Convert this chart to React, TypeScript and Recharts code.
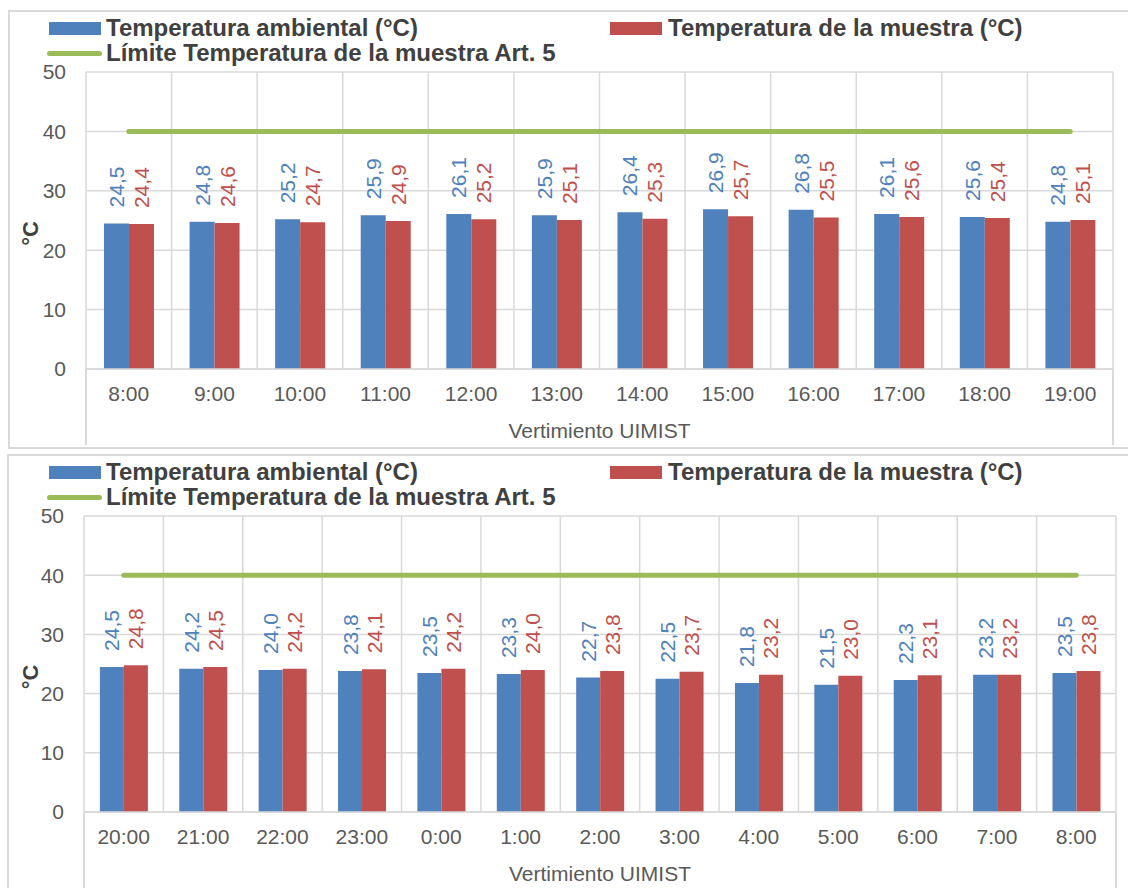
import { ComposedChart, Bar, Line, XAxis, YAxis, CartesianGrid, LabelList } from 'recharts';

// Datos
const horasDia = ['8:00', '9:00', '10:00', '11:00', '12:00', '13:00', '14:00', '15:00', '16:00', '17:00', '18:00', '19:00'];
const ambientalDia = [24.5, 24.8, 25.2, 25.9, 26.1, 25.9, 26.4, 26.9, 26.8, 26.1, 25.6, 24.8];
const muestraDia = [24.4, 24.6, 24.7, 24.9, 25.2, 25.1, 25.3, 25.7, 25.5, 25.6, 25.4, 25.1];

const horasNoche = ['20:00', '21:00', '22:00', '23:00', '0:00', '1:00', '2:00', '3:00', '4:00', '5:00', '6:00', '7:00', '8:00'];
const ambientalNoche = [24.5, 24.2, 24.0, 23.8, 23.5, 23.3, 22.7, 22.5, 21.8, 21.5, 22.3, 23.2, 23.5];
const muestraNoche = [24.8, 24.5, 24.2, 24.1, 24.2, 24.0, 23.8, 23.7, 23.2, 23.0, 23.1, 23.2, 23.8];

const limiteArt5 = 40;
const yTicks = [0, 10, 20, 30, 40, 50];

const AZUL = '#4F81BD';
const ROJO = '#C0504D';
const VERDE = '#9BBB59';
const GRIS = '#d9d9d9';
const FONT = '"Liberation Sans", Arial, sans-serif';

const fmt = (v: number) => v.toFixed(1).replace('.', ',');

const rotLabel = (color: string) => (props: any) => {
  const { x, y, width, value } = props;
  const cx = Number(x) + Number(width) / 2;
  const ty = Number(y) - 16;
  return (
    <text
      x={cx}
      y={ty}
      transform={`rotate(-90, ${cx}, ${ty})`}
      textAnchor="start"
      dominantBaseline="central"
      fill={color}
      fontSize={21}
      fontFamily={FONT}
    >
      {fmt(Number(value))}
    </text>
  );
};

function Legend({ top }: { top: number }) {
  const txt = { position: 'absolute' as const, fontWeight: 'bold' as const, fontSize: 24, color: '#404040', lineHeight: '26px', whiteSpace: 'nowrap' as const };
  return (
    <>
      <div style={{ position: 'absolute', left: 49, top: top - 6, width: 52, height: 13, background: AZUL }} />
      <div style={{ ...txt, left: 106, top: top - 13 }}>Temperatura ambiental (°C)</div>
      <div style={{ position: 'absolute', left: 610, top: top - 6, width: 52, height: 13, background: ROJO }} />
      <div style={{ ...txt, left: 668, top: top - 13 }}>Temperatura de la muestra (°C)</div>
      <div style={{ position: 'absolute', left: 47, top: top + 23, width: 55, height: 5, borderRadius: 3, background: VERDE }} />
      <div style={{ ...txt, left: 106, top: top + 12 }}>Límite Temperatura de la muestra Art. 5</div>
    </>
  );
}

interface PanelProps {
  top: number;
  height: number;
  horas: string[];
  ambiental: number[];
  muestra: number[];
  margin: { top: number; right: number; bottom: number; left: number };
  yWidth: number;
  gap: string;
  legendTop: number;
  box: { left: number; top: number; height: number };
  plotLeft: number;
  plotRight: number;
  plotBottom: number;
  extBottom: number;
}

function Panel(p: PanelProps) {
  const data = p.horas.map((h, i) => ({
    hora: h,
    ambiental: p.ambiental[i],
    muestra: p.muestra[i],
    limite: limiteArt5,
  }));
  const n = data.length;
  const plotTop = p.margin.top;
  const plotBottomRel = p.plotBottom - p.top;
  const yLabelY = (plotTop + plotBottomRel) / 2 + 13;

  return (
    <>
      <div style={{ position: 'absolute', left: p.box.left, top: p.box.top, width: 1300, height: p.box.height, border: `2px solid ${GRIS}`, boxSizing: 'border-box' }} />
      <div style={{ position: 'absolute', left: p.plotLeft - 1, top: p.plotBottom, width: 2, height: p.extBottom - p.plotBottom, background: GRIS }} />
      <div style={{ position: 'absolute', left: p.plotRight - 1, top: p.plotBottom, width: 2, height: p.extBottom - p.plotBottom, background: GRIS }} />
      <Legend top={p.legendTop} />
      <div style={{ position: 'absolute', left: 0, top: p.top }}>
        <ComposedChart width={1128} height={p.height} data={data} margin={p.margin} barCategoryGap={p.gap} barGap={0}>
          <CartesianGrid
            stroke={GRIS}
            strokeWidth={1.5}
            verticalCoordinatesGenerator={({ offset }: any) =>
              Array.from({ length: n + 1 }, (_, i) => offset.left + (i * offset.width) / n)
            }
          />
          <XAxis
            dataKey="hora"
            axisLine={{ stroke: GRIS, strokeWidth: 1.5 }}
            tickLine={false}
            tickSize={0}
            tickMargin={17}
            height={72}
            interval={0}
            tick={{ fill: '#595959', fontSize: 21, fontFamily: FONT }}
            label={{ value: 'Vertimiento UIMIST', position: 'insideBottom', offset: 3, fill: '#595959', fontSize: 21, fontFamily: FONT }}
          />
          <YAxis
            domain={[0, 50]}
            ticks={yTicks}
            width={p.yWidth}
            axisLine={false}
            tickLine={false}
            tickSize={0}
            tickMargin={20}
            tick={{ fill: '#595959', fontSize: 21, fontFamily: FONT }}
            label={{
              content: () => (
                <text
                  x={30}
                  y={yLabelY}
                  transform={`rotate(-90, 30, ${yLabelY})`}
                  textAnchor="middle"
                  dominantBaseline="central"
                  fill="#404040"
                  fontWeight="bold"
                  fontSize={22}
                  fontFamily={FONT}
                >
                  °C
                </text>
              ),
            }}
          />
          <Bar dataKey="ambiental" fill={AZUL} isAnimationActive={false}>
            <LabelList dataKey="ambiental" content={rotLabel(AZUL)} />
          </Bar>
          <Bar dataKey="muestra" fill={ROJO} isAnimationActive={false}>
            <LabelList dataKey="muestra" content={rotLabel(ROJO)} />
          </Bar>
          <Line
            dataKey="limite"
            type="linear"
            stroke={VERDE}
            strokeWidth={5}
            strokeLinecap="round"
            dot={false}
            activeDot={false}
            isAnimationActive={false}
          />
        </ComposedChart>
      </div>
    </>
  );
}

export default function App() {
  return (
    <div style={{ position: 'absolute', left: 0, top: 0, width: 1128, height: 888, overflow: 'hidden', background: '#fff', fontFamily: FONT }}>
      <Panel
        top={0}
        height={448}
        horas={horasDia}
        ambiental={ambientalDia}
        muestra={muestraDia}
        margin={{ top: 72, right: 15, bottom: 7, left: 0 }}
        yWidth={86}
        gap="21%"
        legendTop={28}
        box={{ left: 8, top: 10, height: 439 }}
        plotLeft={86}
        plotRight={1113}
        plotBottom={369}
        extBottom={445}
      />
      <Panel
        top={448}
        height={440}
        horas={horasNoche}
        ambiental={ambientalNoche}
        muestra={muestraNoche}
        margin={{ top: 68, right: 12, bottom: 4, left: 0 }}
        yWidth={84}
        gap="20%"
        legendTop={472}
        box={{ left: 7, top: 454, height: 500 }}
        plotLeft={84}
        plotRight={1116}
        plotBottom={812}
        extBottom={888}
      />
    </div>
  );
}
